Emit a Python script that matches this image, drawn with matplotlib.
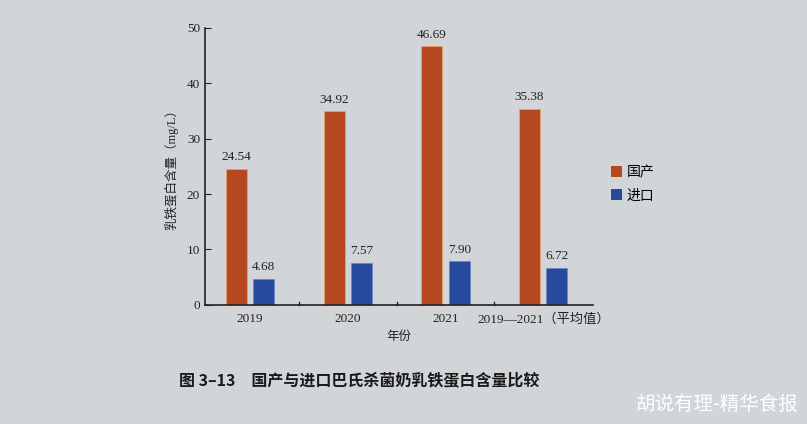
import numpy as np
import matplotlib.pyplot as plt
from matplotlib.patches import Patch

plt.rcParams['font.family'] = ['Liberation Serif', 'Noto Sans CJK SC']

years = ["2019", "2020", "2021", "2019—2021（平均值）"]
domestic = [24.54, 34.92, 46.69, 35.38]
imported = [4.68, 7.57, 7.90, 6.72]
series_names = ["国产", "进口"]

ORANGE = "#b5481f"
BLUE = "#274a9c"
BG = "#d2d5d8"

fig = plt.figure(figsize=(8.07, 4.24), dpi=100, facecolor=BG)
ax = fig.add_axes([0.254, 0.281, 0.481, 0.653], facecolor=BG)

x = np.arange(len(years))
w = 0.215
off = 0.14
ax.bar(x - off, domestic, w, color=ORANGE, edgecolor="#e8a070", linewidth=0.6)
ax.bar(x + off, imported, w, color=BLUE, edgecolor="#6a88c8", linewidth=0.6)

for xi, v in zip(x - off, domestic):
    ax.text(xi, v + 1.0, f"{v:.2f}", ha="center", va="bottom", fontsize=9.5, color="#222222")
for xi, v in zip(x + off, imported):
    ax.text(xi, v + 1.0, f"{v:.2f}", ha="center", va="bottom", fontsize=9.5, color="#222222")

ax.set_xlim(-0.46, 3.51)
ax.set_ylim(0, 50)
ax.set_yticks([0, 10, 20, 30, 40, 50])
ax.tick_params(axis="y", direction="in", length=4, labelsize=9.5, colors="#222222")
ax.set_xticks(x)
ax.set_xticklabels(years, fontsize=9.5, color="#222222")
ax.tick_params(axis="x", length=0, pad=6)
# small marks between the groups
for bx in [0.5, 1.5, 2.5]:
    ax.plot([bx, bx], [0, 0.6], color="#222222", lw=1.0, clip_on=False)

for s in ["top", "right"]:
    ax.spines[s].set_visible(False)
for s in ["left", "bottom"]:
    ax.spines[s].set_color("#222222")
    ax.spines[s].set_linewidth(1.2)

ax.set_ylabel("乳铁蛋白含量（mg/L）", fontsize=9, color="#222222", labelpad=6)
ax.set_xlabel("年份", fontsize=9, color="#222222", labelpad=4)

handles = [Patch(facecolor=ORANGE), Patch(facecolor=BLUE)]
fig.legend(handles, series_names, loc="center left", bbox_to_anchor=(0.742, 0.565),
           frameon=False, fontsize=10, handlelength=0.8, handleheight=0.8,
           handletextpad=0.3, labelspacing=0.7)

fig.text(0.222, 0.103, "图 3–13　国产与进口巴氏杀菌奶乳铁蛋白含量比较", fontsize=11.5,
         fontweight="bold", color="#1a1a1a", ha="left", va="center",
         family=["Noto Sans CJK SC", "DejaVu Sans"])
fig.text(0.99, 0.045, "胡说有理-精华食报", fontsize=14, color="white", ha="right",
         va="center", family=["Noto Sans CJK SC", "DejaVu Sans"])

fig.savefig("out.png", dpi=100, facecolor=BG)
